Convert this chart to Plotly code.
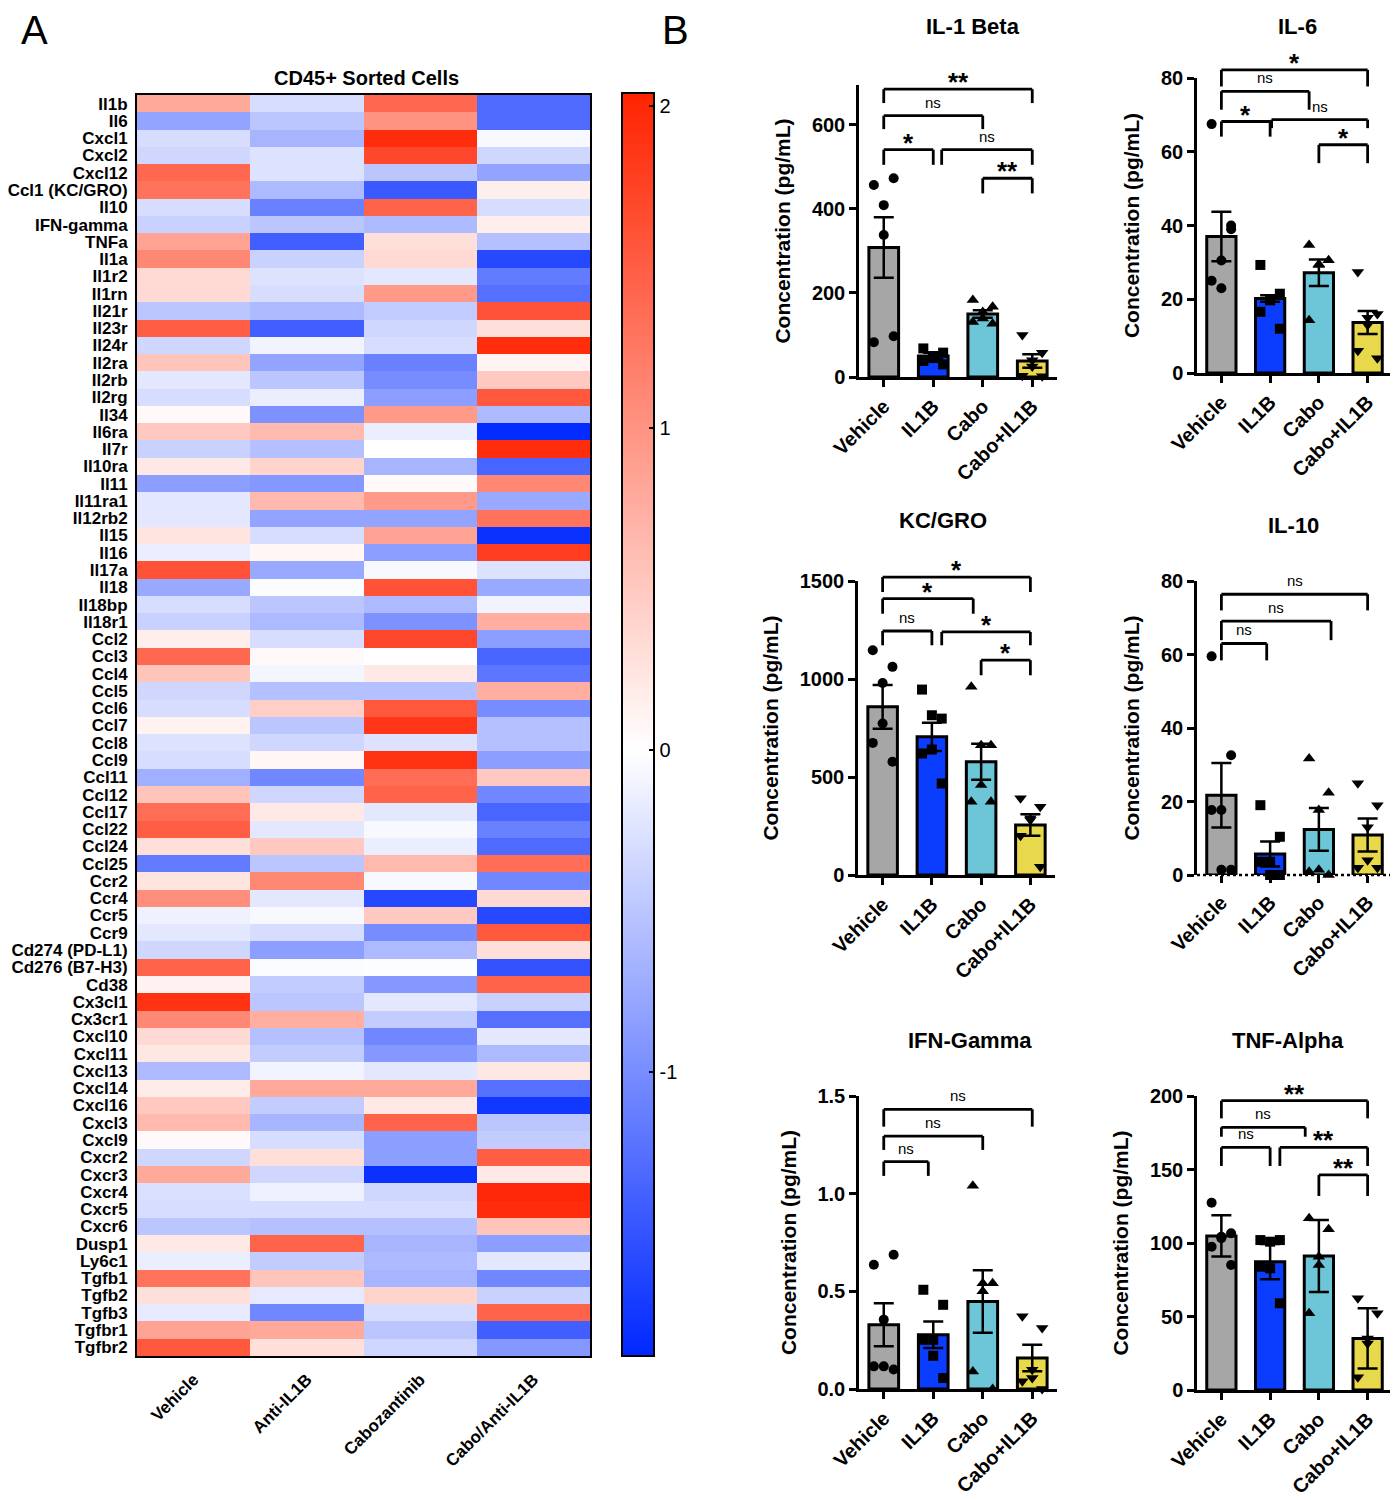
import plotly.graph_objects as go

# reference picture size; the page body adds an 8px margin, so the figure is 8px smaller
W_REF, H_REF = 1398, 1500
OFF = 8
W, H = W_REF - OFF, H_REF - OFF
FONT = "Liberation Sans, Arial, Helvetica, sans-serif"

# ---------------- Panel A data (heatmap) ----------------
GENES = ["Il1b", "Il6", "Cxcl1", "Cxcl2", "Cxcl12", "Ccl1 (KC/GRO)", "Il10", "IFN-gamma", "TNFa",
         "Il1a", "Il1r2", "Il1rn", "Il21r", "Il23r", "Il24r", "Il2ra", "Il2rb", "Il2rg", "Il34",
         "Il6ra", "Il7r", "Il10ra", "Il11", "Il11ra1", "Il12rb2", "Il15", "Il16", "Il17a", "Il18",
         "Il18bp", "Il18r1", "Ccl2", "Ccl3", "Ccl4", "Ccl5", "Ccl6", "Ccl7", "Ccl8", "Ccl9",
         "Ccl11", "Ccl12", "Ccl17", "Ccl22", "Ccl24", "Ccl25", "Ccr2", "Ccr4", "Ccr5", "Ccr9",
         "Cd274 (PD-L1)", "Cd276 (B7-H3)", "Cd38", "Cx3cl1", "Cx3cr1", "Cxcl10", "Cxcl11",
         "Cxcl13", "Cxcl14", "Cxcl16", "Cxcl3", "Cxcl9", "Cxcr2", "Cxcr3", "Cxcr4", "Cxcr5",
         "Cxcr6", "Dusp1", "Ly6c1", "Tgfb1", "Tgfb2", "Tgfb3", "Tgfbr1", "Tgfbr2"]
CONDITIONS = ["Vehicle", "Anti-IL1B", "Cabozantinib", "Cabo/Anti-IL1B"]

Z_VEHICLE = [0.8, -0.8, -0.3, -0.35, 1.4, 1.3, -0.3, -0.4, 0.85, 1.1, 0.35, 0.35, -0.5, 1.5, -0.35,
             0.55, -0.2, -0.3, 0.05, 0.5, -0.4, 0.2, -0.85, -0.2, -0.2, 0.25, -0.15, 1.6, -0.75,
             -0.3, -0.4, 0.15, 1.4, 0.55, -0.35, -0.3, 0.12, -0.25, -0.3, -0.7, 0.55, 1.35, 1.5,
             0.3, -1.15, 0.25, 1.05, -0.12, -0.2, -0.35, 1.45, 0.12, 1.9, 1.1, 0.35, 0.22, -0.6,
             0.18, 0.5, 0.65, 0.05, -0.35, 0.8, -0.28, -0.3, -0.5, 0.2, -0.15, 1.3, 0.3, -0.18,
             0.85, 1.55]
Z_ANTI = [-0.3, -0.5, -0.65, -0.25, -0.25, -0.6, -1.1, -0.5, -1.4, -0.4, -0.25, -0.3, -0.6, -1.4,
          -0.1, -0.8, -0.5, -0.15, -0.95, 0.65, -0.55, 0.4, -0.9, 0.65, -0.8, -0.3, 0.08, -0.75,
          -0.03, -0.5, -0.6, -0.3, 0.05, -0.08, -0.55, 0.45, -0.5, -0.35, 0.08, -1.05, -0.35, 0.2,
          -0.2, 0.5, -0.5, 1.1, -0.2, -0.05, -0.3, -0.85, -0.03, -0.45, -0.5, 0.75, -0.55, -0.45,
          -0.1, 0.8, -0.45, -0.65, -0.3, 0.3, -0.35, -0.12, -0.3, -0.55, 1.45, -0.45, 0.55, -0.18,
          -1.05, 0.8, 0.3]
Z_CABO = [1.4, 1.0, 1.95, 1.7, -0.5, -1.45, 1.45, -0.6, 0.3, 0.35, -0.2, 0.95, -0.45, -0.35, -0.3,
          -1.1, -1.0, -0.85, 0.95, -0.15, 0.0, -0.65, 0.05, 0.95, -0.8, 0.85, -0.85, -0.05, 1.6,
          -0.6, -0.95, 1.7, 0.0, 0.2, -0.55, 1.55, 1.85, -0.25, 1.9, 1.35, 1.45, -0.2, -0.05,
          -0.15, 0.65, -0.05, -1.6, 0.5, -1.0, -0.6, -0.02, -0.9, -0.2, -0.45, -1.05, -0.9, -0.2,
          0.8, 0.2, 1.45, -0.85, -0.85, -1.8, -0.35, -0.3, -0.55, -0.65, -0.6, -0.65, 0.4, -0.3,
          -0.5, -0.35]
Z_COMBO = [-1.3, -1.3, -0.05, -0.35, -0.8, 0.15, -0.3, 0.15, -0.55, -1.6, -1.15, -1.25, 1.6, 0.3,
           1.95, 0.1, 0.5, 1.55, -0.6, -1.85, 1.95, -1.35, 1.1, -0.75, 1.3, -1.8, 1.8, -0.25,
           -0.75, -0.1, 0.75, -0.85, -1.35, -1.2, 0.75, -1.0, -0.55, -0.55, -0.85, 0.5, -1.05,
           -1.35, -1.1, -1.3, 1.35, -1.05, 0.35, -1.6, 1.55, 0.3, -1.5, 1.45, -0.4, -1.25, -0.2,
           -0.6, 0.22, -1.25, -1.75, -0.5, -0.45, 1.5, 0.2, 2.0, 1.95, 0.55, -0.85, -0.2, -1.05,
           -0.4, 1.45, -1.4, -0.9]
Z_MIN, Z_MAX = -1.88, 2.04
CBAR_TICKS = [-1, 0, 1, 2]
CBAR_TEXT = ["-1", "0", "1", "2"]

# ---------------- Panel B data (bar charts) ----------------
GROUPS = ["Vehicle", "IL1B", "Cabo", "Cabo+IL1B"]

IL1B_MEAN = [308, 50, 150, 38]
IL1B_SEM = [72, 8, 9, 16]
IL1B_PTS = [[457, 473, 409, 338, 83, 97], [68, 58, 50, 45, 38, 30],
            [183, 167, 155, 139, 131, 127], [100, 58, 40, 25, 3, 2]]
IL1B_SIG = [(0, 3, 685, 652, "**"), (0, 2, 622, 590, "ns"), (0, 1, 541, 505, "*"),
            (1.17, 3, 541, 505, "ns"), (2, 3, 473, 437, "**")]

IL6_MEAN = [37, 20.2, 27.2, 13.7]
IL6_SEM = [6.7, 0.9, 3.6, 3.1]
IL6_PTS = [[67.5, 39, 30.5, 23, 25, 40], [29.3, 21.5, 20, 19.7, 16.6, 12],
           [34.7, 30.6, 29.5, 29.3, 14.3], [27.4, 16, 15, 13, 6, 4]]
IL6_SIG = [(0, 3, 82.2, 77.7, "*"), (0, 1.8, 76.4, 71.4, "ns"), (0, 1, 68.2, 64.1, "*"),
           (1.03, 3, 68.7, 66.4, "ns"), (2, 3, 61.9, 56.9, "*")]

KC_MEAN = [858, 705, 578, 255]
KC_SEM = [112, 72, 92, 55]
KC_PTS = [[1147, 1062, 980, 773, 674, 578], [946, 798, 815, 640, 620, 467],
          [960, 662, 662, 459, 374, 374], [391, 348, 289, 280, 200, 42]]
KC_SIG = [(0, 3, 1520, 1444, "*"), (0, 1.84, 1410, 1333, "*"), (0, 1, 1245, 1172, "ns"),
          (1.2, 3, 1240, 1172, "*"), (2, 3, 1096, 1019, "*")]

IL10_MEAN = [21.7, 5.7, 12.4, 10.9]
IL10_SEM = [8.8, 3.4, 5.8, 4.5]
IL10_PTS = [[59.5, 32.6, 17.7, 1.4, 17.7, 1.4], [19, 10.4, 3.6, 0, 3.6, 0],
            [31.7, 22.4, 17.7, 1.4, 0.9, 0], [25, 19, 13, 4, 2, 2]]
IL10_SIG = [(0, 3, 76.4, 72, "ns"), (0, 2.25, 69.1, 63.9, "ns"), (0, 0.93, 63, 58.4, "ns")]

IFN_MEAN = [0.329, 0.278, 0.448, 0.159]
IFN_SEM = [0.11, 0.068, 0.16, 0.068]
IFN_PTS = [[0.636, 0.687, 0.355, 0.116, 0.116, 0.10], [0.508, 0.431, 0.252, 0.17, 0.252, 0.056],
           [1.04, 0.542, 0.542, 0.50, 0.09, 0.0], [0.372, 0.312, 0.099, 0.056, 0.04, 0.0]]
IFN_SIG = [(0, 3, 1.432, 1.343, "ns"), (0, 2, 1.295, 1.224, "ns"), (0, 0.9, 1.164, 1.091, "ns")]

TNF_MEAN = [104.8, 87.3, 91.2, 35.1]
TNF_SEM = [14, 12, 24.5, 20.5]
TNF_PTS = [[127.4, 106.6, 104.3, 103.2, 97.5, 85], [102, 102, 100.9, 82.8, 83.9, 59],
           [116.8, 109.3, 90.7, 85, 52.2], [62.4, 52.2, 35.1, 31.7, 8.6]]
TNF_SIG = [(0, 3, 196.8, 184.8, "**"), (0, 1.72, 178.7, 172.3, "ns"), (0, 1, 165, 152.4, "ns"),
           (1.2, 3, 165, 152.4, "**"), (2, 3, 146.3, 132, "**")]

# ---------------- styles / layout ----------------
BAR_COLORS = ["#A6A6A6", "#0B3DFF", "#6DC5D8", "#E8D84C"]
SYMBOLS = ["circle", "square", "triangle-up", "triangle-down"]
JITTER = [-0.2, 0.2, 0.0, 0.0, -0.2, 0.2]

# title, mean, sem, points, sig, yrange max, dtick, tickformat, x-px (left,right), y-px (top,bottom), title px
PANELS = [
    ("IL-1 Beta", IL1B_MEAN, IL1B_SEM, IL1B_PTS, IL1B_SIG, 695, 200, "d", (859, 1057), (85, 377), (973, 27)),
    ("IL-6", IL6_MEAN, IL6_SEM, IL6_PTS, IL6_SIG, 80, 20, "d", (1197, 1392), (78, 373), (1297, 27)),
    ("KC/GRO", KC_MEAN, KC_SEM, KC_PTS, KC_SIG, 1500, 500, "d", (858, 1055), (581, 875), (943, 520)),
    ("IL-10", IL10_MEAN, IL10_SEM, IL10_PTS, IL10_SIG, 80, 20, "d", (1197, 1392), (581, 875), (1293, 525)),
    ("IFN-Gamma", IFN_MEAN, IFN_SEM, IFN_PTS, IFN_SIG, 1.5, 0.5, ".1f", (859, 1057), (1096, 1389), (970, 1040)),
    ("TNF-Alpha", TNF_MEAN, TNF_SEM, TNF_PTS, TNF_SIG, 200, 50, "d", (1197, 1392), (1096, 1390), (1288, 1040)),
]


def fx(p):
    return (p - OFF) / W


def fy(p):
    return 1 - (p - OFF) / H


def paper_text(text, px, py, size, weight="normal"):
    return dict(text=text, x=fx(px), y=fy(py), xref="paper", yref="paper", showarrow=False,
                xanchor="center", yanchor="middle",
                font=dict(family=FONT, size=size, color="black", weight=weight))


fig = go.Figure()
shapes = []
annotations = []

# ---------------- Heatmap ----------------
z = [list(r) for r in zip(Z_VEHICLE, Z_ANTI, Z_CABO, Z_COMBO)]
mid = -Z_MIN / (Z_MAX - Z_MIN)
fig.add_trace(go.Heatmap(
    z=z, x=CONDITIONS, y=GENES, zmin=Z_MIN, zmax=Z_MAX,
    colorscale=[[0, "rgb(0,40,255)"], [mid, "rgb(255,255,255)"], [1, "rgb(255,35,0)"]],
    xaxis="x", yaxis="y", hoverinfo="skip",
    colorbar=dict(x=fx(622), xanchor="left", y=fy(93), yanchor="top",
                  len=(1356 - 93) / H, lenmode="fraction", thickness=32, thicknessmode="pixels",
                  outlinewidth=2, outlinecolor="black", xpad=0, ypad=0,
                  tickmode="array", tickvals=CBAR_TICKS, ticktext=CBAR_TEXT,
                  ticks="inside", ticklen=6, tickwidth=2, tickcolor="black",
                  tickfont=dict(family=FONT, size=20, color="black")),
))

layout = dict(
    width=W, height=H, margin=dict(l=0, r=0, t=0, b=0), autosize=False,
    paper_bgcolor="white", plot_bgcolor="white", showlegend=False,
    font=dict(family=FONT, color="black"),
    xaxis=dict(domain=[fx(137), fx(590)], anchor="y", showline=True, mirror=True, linecolor="black",
               linewidth=2, tickangle=-45, ticks="", ticklabelstandoff=5, automargin=False,
               tickmode="array", tickvals=CONDITIONS, ticktext=CONDITIONS,
               tickfont=dict(family=FONT, size=17, color="black", weight="bold"), fixedrange=True),
    yaxis=dict(domain=[fy(1356), fy(95)], anchor="x", autorange="reversed", showline=True, mirror=True,
               linecolor="black", linewidth=2, ticks="", ticklabelstandoff=4, automargin=False,
               tickmode="array", tickvals=GENES, ticktext=GENES,
               tickfont=dict(family=FONT, size=17, color="black", weight="bold"), fixedrange=True),
)

annotations.append(paper_text("CD45+ Sorted Cells", 366, 78, 20, "bold"))
annotations.append(paper_text("A", 35, 30, 40))
annotations.append(paper_text("B", 675, 30, 40))

# ---------------- Bar panels ----------------
for i, (title, mean, sem, pts, sig, ymax, dtick, tfmt, xpx, ypx, tpx) in enumerate(PANELS):
    k = i + 2
    xa, ya = f"x{k}", f"y{k}"
    fig.add_trace(go.Bar(
        x=list(range(len(GROUPS))), y=mean, width=0.6, xaxis=xa, yaxis=ya,
        marker=dict(color=BAR_COLORS, line=dict(color="black", width=3)),
        error_y=dict(type="data", array=sem, visible=True, color="black", thickness=2.5, width=10),
        hoverinfo="skip"))
    for g, vals in enumerate(pts):
        fig.add_trace(go.Scatter(
            x=[g + JITTER[j] for j in range(len(vals))], y=vals, mode="markers",
            xaxis=xa, yaxis=ya, cliponaxis=False, hoverinfo="skip",
            marker=dict(symbol=SYMBOLS[g], size=10 if g < 2 else 11, color="black")))

    dotted_base = title == "IL-10"
    layout[f"xaxis{k}"] = dict(
        domain=[fx(xpx[0]), fx(xpx[1])], anchor=ya, range=[-0.5, 3.5],
        tickmode="array", tickvals=list(range(len(GROUPS))), ticktext=GROUPS, tickangle=-45,
        showline=not dotted_base, linecolor="black", linewidth=2.5,
        ticks="outside", ticklen=7, tickwidth=2.5, tickcolor="black", showgrid=False, zeroline=False,
        tickfont=dict(family=FONT, size=20, color="black", weight="bold"), automargin=False, fixedrange=True)
    layout[f"yaxis{k}"] = dict(
        domain=[fy(ypx[1]), fy(ypx[0])], anchor=xa, range=[0, ymax], dtick=dtick, tick0=0,
        tickformat=tfmt, showline=True, linecolor="black", linewidth=2.5,
        ticks="outside", ticklen=7, tickwidth=2.5, tickcolor="black", showgrid=False, zeroline=False,
        tickfont=dict(family=FONT, size=20, color="black", weight="bold"),
        title=dict(text="Concentration (pg/mL)", standoff=16,
                   font=dict(family=FONT, size=21, color="black", weight="bold")),
        automargin=False, fixedrange=True)

    if dotted_base:
        shapes.append(dict(type="line", xref=f"{xa} domain", yref=f"{ya} domain", x0=0, x1=1, y0=0, y1=0,
                           line=dict(color="black", width=2.5, dash="dot")))

    annotations.append(paper_text(title, tpx[0], tpx[1], 22, "bold"))

    for (a, b, yl, yg, lab) in sig:
        x0 = (a + 0.5) / 4.0
        x1 = (b + 0.5) / 4.0
        y_line = yl / ymax
        y_leg = yg / ymax
        for (sx0, sy0, sx1, sy1) in [(x0, y_leg, x0, y_line), (x0, y_line, x1, y_line), (x1, y_line, x1, y_leg)]:
            shapes.append(dict(type="line", xref=f"{xa} domain", yref=f"{ya} domain",
                               x0=sx0, y0=sy0, x1=sx1, y1=sy1, line=dict(color="black", width=2.8)))
        is_ns = lab == "ns"
        annotations.append(dict(
            text=lab, x=(x0 + x1) / 2, y=y_line, xref=f"{xa} domain", yref=f"{ya} domain",
            xanchor="center", yanchor="bottom", yshift=3 if is_ns else -10, showarrow=False,
            font=dict(family=FONT, size=15 if is_ns else 26, color="black",
                      weight="normal" if is_ns else "bold")))

layout["shapes"] = shapes
layout["annotations"] = annotations
fig.update_layout(**layout)

fig.write_html("out.html")
